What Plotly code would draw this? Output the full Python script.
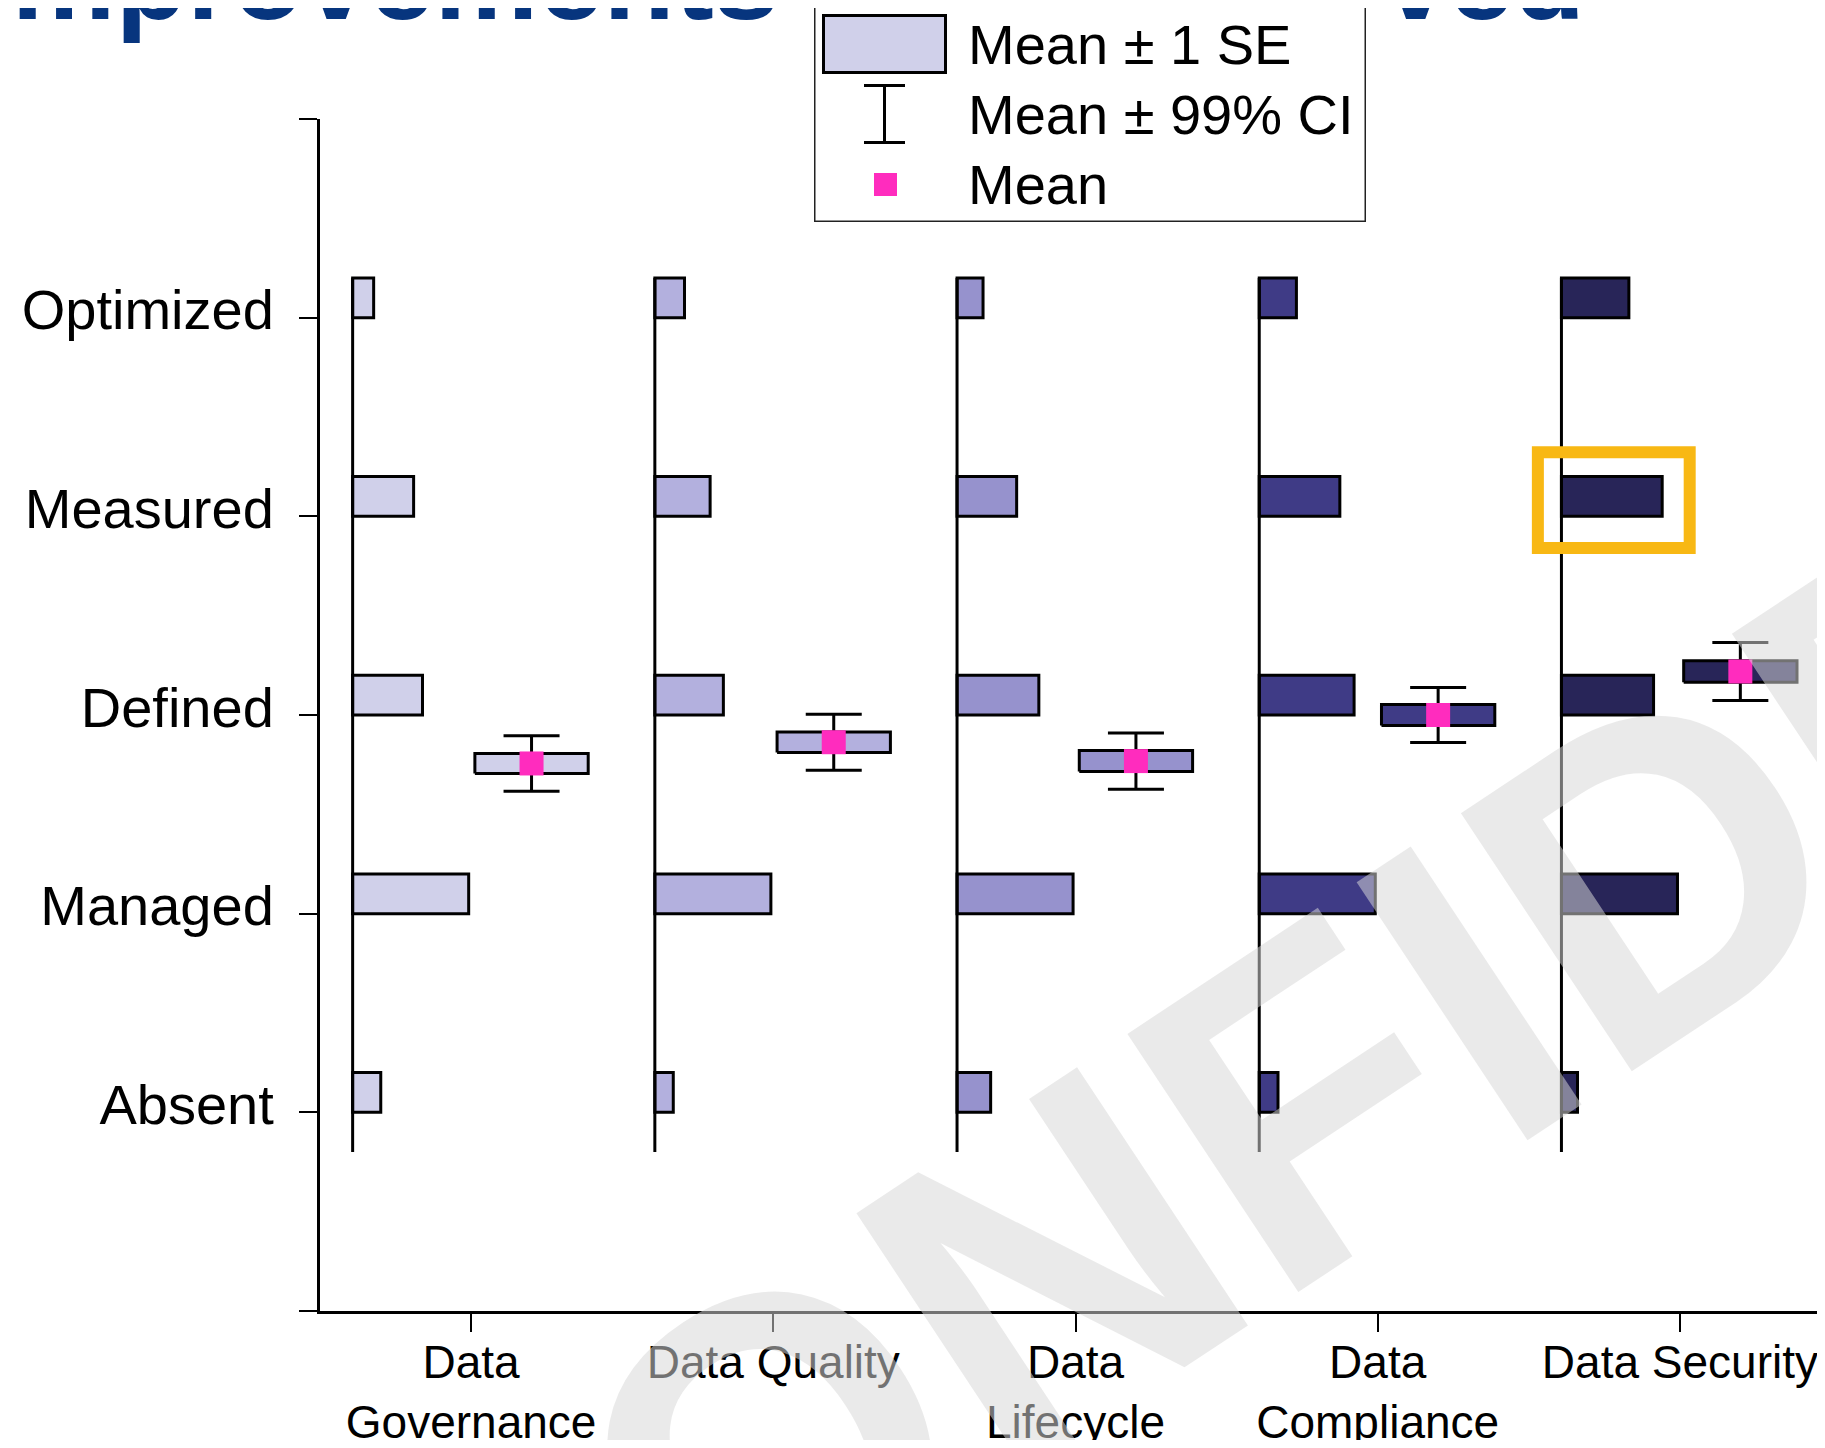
import plotly.graph_objects as go

# ---------------- data ----------------
domains = ["Data Governance", "Data Quality", "Data Lifecycle", "Data Compliance", "Data Security"]
domain_ticks = ["Data<br>Governance", "Data Quality", "Data<br>Lifecycle", "Data<br>Compliance", "Data Security"]
levels = ["Absent", "Managed", "Defined", "Measured", "Optimized"]

# share of respondents (%) per maturity level: Absent, Managed, Defined, Measured, Optimized
pct_governance = [9.5, 39.2, 23.6, 20.6, 7.1]
pct_quality = [6.4, 40.3, 23.8, 19.2, 10.3]
pct_lifecycle = [10.6, 36.6, 25.8, 18.8, 8.2]
pct_compliance = [5.4, 33.4, 27.3, 23.2, 10.7]
pct_security = [4.1, 29.6, 23.5, 25.7, 17.2]

means = [2.756, 2.863, 2.768, 3.000, 3.219]
se = [0.050, 0.052, 0.053, 0.053, 0.054]
ci99 = [0.140, 0.141, 0.142, 0.139, 0.146]

colors = ["#D0D0EA", "#B3B0DE", "#9692CD", "#3F3B86", "#282558"]
mean_color = "#FF2CBE"
title_text = "Improvements was observed"
watermark = "CONFIDENTIAL"
highlight = ("Data Security", "Measured")

# ---------------- layout constants ----------------
BODY = 8                      # default page margin of the html body
FIG_W, FIG_H = 1825 - 2 * BODY, 1448 - 2 * BODY
ML, MR, MT, MB = 312, 0, 111, 129
PW, PH = FIG_W - ML - MR, FIG_H - MT - MB
UNIT_PX = 302.2
FONT = "Liberation Sans, Arial, sans-serif"

HIST_OFF = 0.392     # histogram baseline left of tick
HIST_MAX = 0.384     # width of the tallest histogram bar
BAR_H = 0.2
BOX_C = 0.2          # box centre right of tick
BOX_HALF = 0.1875
LABEL_SHIFT = 0.04   # y tick labels sit slightly above their ticks
XRANGE = [0.5, 0.5 + PW / UNIT_PX]


def pxx(px):
    """page pixel x -> paper x"""
    return (px - BODY - ML) / PW


def pxy(py):
    """page pixel y -> paper y"""
    return (MT + PH - (py - BODY)) / PH


all_pct = [pct_governance, pct_quality, pct_lifecycle, pct_compliance, pct_security]
lvl_vals = list(range(1, len(levels) + 1))

fig = go.Figure()

for i, pct in enumerate(all_pct):
    pos = i + 1
    base = pos - HIST_OFF
    mx = max(pct)
    widths = [p / mx * HIST_MAX for p in pct]
    fig.add_trace(go.Scatter(x=[base, base], y=[lvl_vals[0] - BAR_H, lvl_vals[-1] + BAR_H],
                             mode="lines", line=dict(color="black", width=3), hoverinfo="skip"))
    fig.add_trace(go.Bar(orientation="h", y=[v + BAR_H / 2 for v in lvl_vals], x=widths,
                         base=[base] * len(widths), width=BAR_H,
                         marker=dict(color=colors[i], line=dict(color="black", width=3)),
                         name=domains[i]))
    fig.add_trace(go.Scatter(x=[pos + BOX_C], y=[means[i]], mode="markers",
                             marker=dict(size=1, color="rgba(0,0,0,0)"),
                             error_y=dict(type="data", array=[ci99[i]], color="black",
                                          thickness=3, width=28)))
    l, r = pos + BOX_C - BOX_HALF, pos + BOX_C + BOX_HALF
    lo, hi = means[i] - se[i], means[i] + se[i]
    fig.add_trace(go.Scatter(x=[l, r, r, l, l], y=[lo, lo, hi, hi, lo], mode="lines",
                             fill="toself", fillcolor=colors[i],
                             line=dict(color="black", width=3)))
    fig.add_trace(go.Scatter(x=[pos + BOX_C], y=[means[i]], mode="markers",
                             marker=dict(symbol="square", size=24, color=mean_color,
                                         line=dict(width=0))))

# helper trace so that the label axes are drawn
fig.add_trace(go.Scatter(x=[1], y=[1], xaxis="x2", yaxis="y2", mode="markers",
                         marker=dict(size=1, color="rgba(0,0,0,0)"), hoverinfo="skip"))

# highlight rectangle around one bar
hi_g = domains.index(highlight[0])
hi_l = levels.index(highlight[1])
hb = hi_g + 1 - HIST_OFF
hw = all_pct[hi_g][hi_l] / max(all_pct[hi_g]) * HIST_MAX
fig.add_shape(type="rect", xref="x", yref="y", layer="above",
              x0=hb - 0.078, x1=hb + hw + 0.091,
              y0=lvl_vals[hi_l] - 0.159, y1=lvl_vals[hi_l] + BAR_H + 0.122,
              line=dict(color="#F8B814", width=12))

annotations = []
annotations.append(dict(text="<b>" + title_text + "</b>", xref="paper", yref="paper",
                        x=pxx(-23), y=pxy(46), xanchor="left", yanchor="bottom",
                        showarrow=False, font=dict(size=117, color="#07357E", family=FONT)))
# custom legend
annotations.append(dict(text=" ", xref="paper", yref="paper", x=pxx(813.6), y=pxy(4),
                        xanchor="left", yanchor="top", width=549, height=215,
                        bgcolor="white", bordercolor="#222", borderwidth=1.5, borderpad=0,
                        showarrow=False))
annotations.append(dict(text=" ", xref="paper", yref="paper", x=pxx(822), y=pxy(14),
                        xanchor="left", yanchor="top", width=119, height=54,
                        bgcolor=colors[0], bordercolor="black", borderwidth=3, borderpad=0,
                        showarrow=False))
annotations.append(dict(text=" ", xref="paper", yref="paper", x=pxx(884.6), y=pxy(85),
                        xanchor="center", yanchor="top", width=3, height=58,
                        bgcolor="black", borderwidth=0, borderpad=0, showarrow=False,
                        font=dict(size=2)))
for cy in (85, 143):
    annotations.append(dict(text=" ", xref="paper", yref="paper", x=pxx(884.6), y=pxy(cy),
                            xanchor="center", yanchor="middle", width=41, height=3,
                            bgcolor="black", borderwidth=0, borderpad=0, showarrow=False,
                            font=dict(size=2)))
annotations.append(dict(text=" ", xref="paper", yref="paper", x=pxx(885.5), y=pxy(184),
                        xanchor="center", yanchor="middle", width=23, height=23,
                        bgcolor=mean_color, borderwidth=0, borderpad=0, showarrow=False,
                        font=dict(size=2)))
for txt, cy in (("Mean ± 1 SE", 44), ("Mean ± 99% CI", 115), ("Mean", 185)):
    annotations.append(dict(text=txt, xref="paper", yref="paper", x=pxx(966), y=pxy(cy),
                            xanchor="left", yanchor="middle", showarrow=False,
                            font=dict(size=56, color="black", family=FONT)))
# watermark
annotations.append(dict(text="<b>" + watermark + "</b>", xref="paper", yref="paper",
                        x=pxx(1750), y=pxy(806), xanchor="center", yanchor="middle",
                        textangle=-33.5, showarrow=False,
                        font=dict(size=450, color="rgba(215,215,215,0.53)", family=FONT)))

fig.update_layout(
    width=FIG_W, height=FIG_H,
    margin=dict(l=ML, r=MR, t=MT, b=MB, pad=0, autoexpand=False),
    paper_bgcolor="white", plot_bgcolor="white",
    showlegend=False, barmode="overlay",
    annotations=annotations,
    font=dict(family=FONT, color="black"),
    xaxis=dict(range=XRANGE, tickvals=[1, 2, 3, 4, 5], showticklabels=False,
               ticks="outside", ticklen=18, tickwidth=2, tickcolor="black",
               showline=True, linecolor="black", linewidth=3, showgrid=False, zeroline=False,
               automargin=False),
    xaxis2=dict(overlaying="x", side="bottom", range=XRANGE,
                tickvals=[1, 2, 3, 4, 5], ticktext=domain_ticks,
                ticks="outside", ticklen=11, tickcolor="rgba(0,0,0,0)",
                showline=False, showgrid=False, zeroline=False,
                automargin=False, ticklabeloverflow="allow",
                tickfont=dict(size=46, color="black", family=FONT)),
    yaxis=dict(range=[0, 6], tickvals=[0] + lvl_vals + [6], showticklabels=False,
               ticks="outside", ticklen=18, tickwidth=2, tickcolor="black",
               showline=True, linecolor="black", linewidth=3, showgrid=False, zeroline=False,
               automargin=False),
    yaxis2=dict(overlaying="y", side="left", range=[-LABEL_SHIFT, 6 - LABEL_SHIFT],
                tickvals=lvl_vals, ticktext=levels,
                ticks="outside", ticklen=18, tickcolor="rgba(0,0,0,0)",
                showline=False, showgrid=False, zeroline=False, ticklabelstandoff=16,
                automargin=False, ticklabeloverflow="allow",
                tickfont=dict(size=56, color="black", family=FONT)),
)

fig.write_html("out.html")
